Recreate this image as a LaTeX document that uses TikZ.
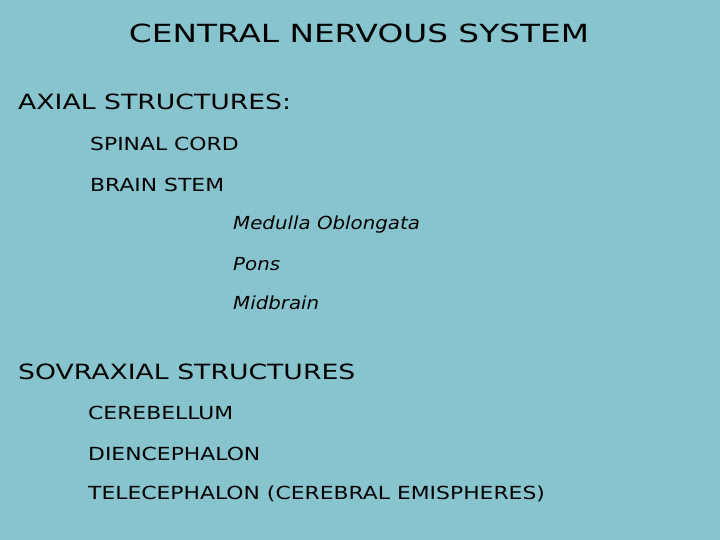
\documentclass[tikz,border=0pt]{standalone}
\usepackage{fontspec}
\setmainfont{DejaVu Sans}
\newfontfamily\fta[FakeStretch=1.31]{DejaVu Sans}
\newfontfamily\ftb[FakeStretch=1.27]{DejaVu Sans}
\newfontfamily\ftc[FakeStretch=1.215]{DejaVu Sans}
\newfontfamily\ftd[FakeStretch=1.1]{DejaVu Sans}
\definecolor{bg}{RGB}{136,196,206}
\begin{document}
\begin{tikzpicture}[x=1pt,y=-1pt,
  t/.style={anchor=west,inner sep=0pt,text=black},
  big/.style={t,font=\ftb\fontsize{21}{24}\selectfont},
  mid/.style={t,font=\ftc\fontsize{18}{21}\selectfont},
  it/.style={t,font=\ftd\fontsize{18}{21}\selectfont\itshape}]
\fill[bg] (0,0) rectangle (720,540);
\useasboundingbox (0,0) rectangle (720,540);
\node[inner sep=0pt,font=\fta\fontsize{25}{29}\selectfont] (title) at (359,33) {CENTRAL NERVOUS SYSTEM};
\node[big] (ax) at (18,102) {AXIAL STRUCTURES:};
\node[mid] (sc) at (90,144) {SPINAL CORD};
\node[mid] (bs) at (90,185) {BRAIN STEM};
\node[it] (mo) at (233,225) {Medulla Oblongata};
\node[it] (po) at (233,264) {Pons};
\node[it] (mb) at (233,303) {Midbrain};
\node[big] (sov) at (18,372) {SOVRAXIAL STRUCTURES};
\node[mid] (ce) at (88,413) {CEREBELLUM};
\node[mid] (di) at (88,454) {DIENCEPHALON};
\node[mid] (te) at (88,494) {TELECEPHALON (CEREBRAL EMISPHERES)};
\end{tikzpicture}
\end{document}
